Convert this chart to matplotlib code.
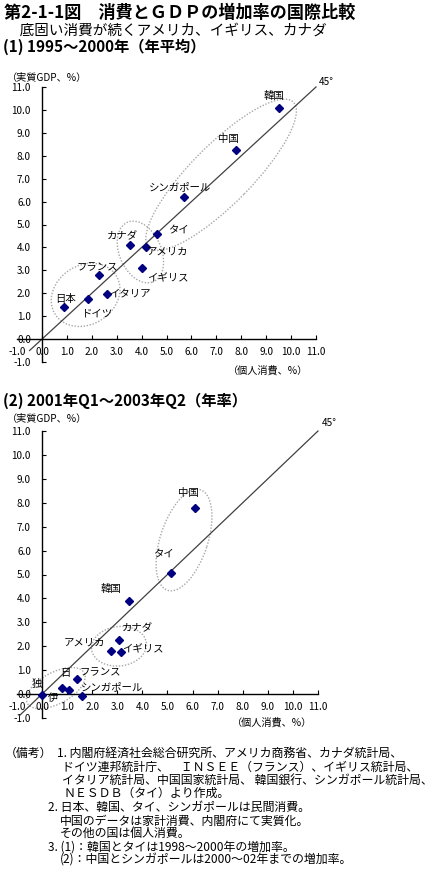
import matplotlib
matplotlib.use("Agg")
import matplotlib.pyplot as plt
from matplotlib.patches import Ellipse

plt.rcParams['font.family'] = ['Noto Sans CJK JP', 'DejaVu Sans']

W, H = 433, 890

# (1) 1995~2000 (annual average): personal consumption vs real GDP growth, %
names1 = ['韓国', '中国', 'シンガポール', 'タイ', 'カナダ', 'アメリカ', 'イギリス',
          'フランス', 'イタリア', 'ドイツ', '日本']
cons1 = [9.5, 7.8, 5.7, 4.6, 3.55, 4.18, 4.03, 2.3, 2.62, 1.83, 0.9]
gdp1 = [10.07, 8.25, 6.2, 4.57, 4.1, 4.0, 3.12, 2.78, 1.96, 1.77, 1.38]

# (2) 2001Q1~2003Q2 (annual rate)
names2 = ['中国', 'タイ', '韓国', 'カナダ', 'アメリカ', 'イギリス', 'フランス',
          '日', '独', '伊', 'シンガポール']
cons2 = [6.1, 5.15, 3.48, 3.07, 2.76, 3.16, 1.41, 0.8, 0.0, 1.09, 1.6]
gdp2 = [7.77, 5.05, 3.88, 2.26, 1.8, 1.77, 0.63, 0.26, -0.04, 0.17, -0.08]

ticks = [-1.0, 0.0, 1.0, 2.0, 3.0, 4.0, 5.0, 6.0, 7.0, 8.0, 9.0, 10.0, 11.0]
tick_labels = ['-1.0', '0.0', '1.0', '2.0', '3.0', '4.0', '5.0', '6.0',
               '7.0', '8.0', '9.0', '10.0', '11.0']
diag1 = [-0.5, 11.0]
diag2 = [-0.9, 11.0]

# label offsets (pixels) and grouping ellipses (center, w, h, angle)
off1 = [(-5, 12), (-8, 11), (-4, 10), (22, 5), (-8, 9), (21, -4), (25, -11),
        (-2, 8), (23, 1), (10, -15), (1, 8)]
off2 = [(-7, 15), (-8, 20), (-18, 12), (18, 12), (-27, 8), (22, 2), (23, 7),
        (3, 15), (-5, 11), (-16, -8), (30, 9)]
ell1 = [((7.19, 7.17), 8.6, 2.5, 48), ((3.95, 3.8), 1.7, 2.8, 20),
        ((1.75, 1.93), 3.0, 2.5, 45)]
ell2 = [((5.66, 6.44), 4.4, 1.9, 73), ((3.07, 2.0), 2.2, 1.65, 8),
        ((0.55, 0.25), 2.6, 1.3, 30)]

fig = plt.figure(figsize=(W / 100, H / 100), dpi=100)


def ftext(x, y, s, **kw):
    kw.setdefault('va', 'center')
    fig.text(x / W, 1 - y / H, s, **kw)


def scatter_panel(rect, cons, gdp, names, offs, ells, diag, deg_off):
    ax = fig.add_axes(rect)
    ax.set_xlim(-1, 11)
    ax.set_ylim(-1, 11)
    for s in ['top', 'right']:
        ax.spines[s].set_visible(False)
    ax.spines['left'].set_position(('data', 0))
    ax.spines['bottom'].set_position(('data', 0))
    for s in ['left', 'bottom']:
        ax.spines[s].set_linewidth(1.0)
    ax.set_xticks(ticks)
    ax.set_xticklabels(tick_labels)
    ax.set_yticks(ticks)
    ax.set_yticklabels(tick_labels)
    ax.tick_params(direction='in', length=3, width=0.8, labelsize=7.2)
    ax.tick_params(axis='x', pad=6)
    ax.tick_params(axis='y', pad=8)
    ax.xaxis.get_major_ticks()[0].tick1line.set_visible(False)
    ax.yaxis.get_major_ticks()[1].tick1line.set_visible(False)

    ax.plot(diag, diag, color='#404040', lw=0.9, zorder=2, clip_on=False)
    ax.annotate('45°', (diag[1], diag[1]), xytext=deg_off,
                textcoords='offset pixels', fontsize=7.2,
                ha='center', va='center', annotation_clip=False)
    for c, w, h, a in ells:
        ax.add_patch(Ellipse(c, w, h, angle=a, fill=False, ec='#a8a8a8',
                             lw=1.0, ls=(0, (1, 1.2)), zorder=1))
    ax.plot(cons, gdp, ls='none', marker='D', ms=4.0, color='#000080',
            zorder=4, clip_on=False)
    for n, x, y, o in zip(names, cons, gdp, offs):
        ax.annotate(n, (x, y), xytext=o, textcoords='offset pixels',
                    fontsize=7.5, ha='center', va='center', zorder=5)
    return ax


scatter_panel([17.1 / W, 1 - 362 / H, (316 - 17.1) / W, (362 - 87) / H],
              cons1, gdp1, names1, off1, ell1, diag1, (10, 5))
scatter_panel([16.9 / W, 1 - 718 / H, (318 - 16.9) / W, (718 - 431) / H],
              cons2, gdp2, names2, off2, ell2, diag2, (11, 8))

ftext(4, 13, '第2-1-1図　消費とＧＤＰの増加率の国際比較', fontsize=12.3, fontweight='bold')
ftext(5, 31, '　底固い消費が続くアメリカ、イギリス、カナダ', fontsize=10.5)
ftext(3, 47, '(1) 1995～2000年（年平均）', fontsize=11, fontweight='bold')
ftext(7, 77, '（実質GDP、%）', fontsize=7.3)
ftext(268, 371, '（個人消費、%）', fontsize=7.3, ha='center')
ftext(3, 401, '(2) 2001年Q1～2003年Q2（年率）', fontsize=11, fontweight='bold')
ftext(7, 418, '（実質GDP、%）', fontsize=7.3)
ftext(272, 723, '（個人消費、%）', fontsize=7.3, ha='center')

notes = [
    (5, 753, '（備考）'),
    (57, 753, '1. 内閣府経済社会総合研究所、アメリカ商務省、カナダ統計局、'),
    (62, 767, 'ドイツ連邦統計庁、　ＩＮＳＥＥ（フランス）、イギリス統計局、'),
    (62, 780, 'イタリア統計局、中国国家統計局、 韓国銀行、シンガポール統計局、'),
    (63, 793, 'ＮＥＳＤＢ（タイ）より作成。'),
    (48, 807, '2. 日本、韓国、タイ、シンガポールは民間消費。'),
    (60, 821, '中国のデータは家計消費、内閣府にて実質化。'),
    (60, 833, 'その他の国は個人消費。'),
    (48, 847, '3. (1)：韓国とタイは1998～2000年の増加率。'),
    (60, 860, '(2)：中国とシンガポールは2000～02年までの増加率。'),
]
for x, y, s in notes:
    ftext(x, y, s, fontsize=8.6)

fig.savefig('out.png', dpi=100)
